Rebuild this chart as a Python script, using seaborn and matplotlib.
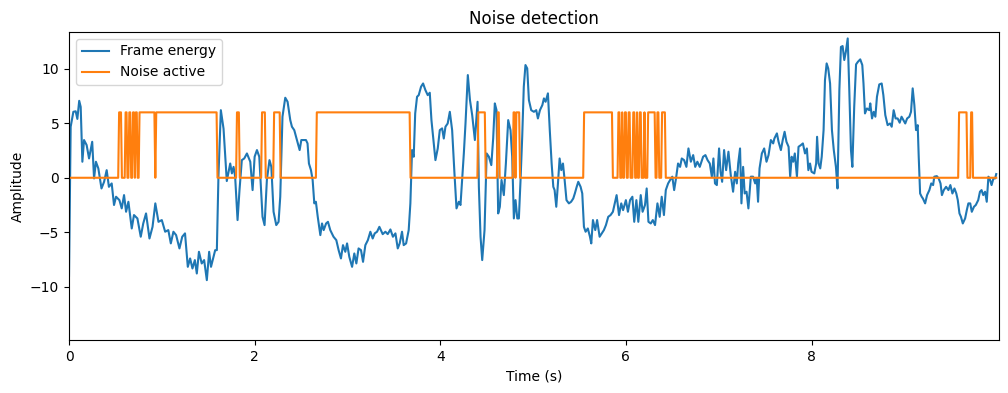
import numpy as np
import pandas as pd
import matplotlib
matplotlib.use("Agg")
import matplotlib.pyplot as plt
import seaborn as sns

# ---- Frame energy (time in s, amplitude) ----
seg_a_time = [0.0, 0.018, 0.047, 0.072, 0.09, 0.11, 0.126, 0.144, 0.162, 0.19, 0.216, 0.25, 0.27, 0.29, 0.316,
              0.35, 0.378, 0.406, 0.43, 0.46, 0.485, 0.507, 0.543, 0.568, 0.593, 0.615, 0.64, 0.676, 0.70, 0.737,
              0.773, 0.80, 0.83, 0.867, 0.90, 0.93, 0.964, 1.0, 1.036, 1.07, 1.097, 1.125, 1.154, 1.19, 1.22,
              1.25, 1.28, 1.305, 1.33, 1.356, 1.377, 1.40, 1.43, 1.456, 1.485, 1.51, 1.53, 1.557, 1.575, 1.593, 1.61]
seg_a_amp = [-9.0, 4.68, 6.05, 6.1, 5.4, 7.06, 6.5, 1.47, 3.46, 3.0, 1.77, 3.3, -0.06, 1.47, 0.86,
             -0.98, -0.37, 0.7, -0.83, -0.52, -2.5, -1.74, -2.05, -2.81, -1.59, -3.12, -2.2, -4.65, -3.42, -3.73,
             -5.41, -4.19, -3.27, -5.57, -4.5, -2.35, -4.04, -3.88, -4.95, -4.8, -6.02, -4.95, -5.26, -6.48, -5.41,
             -5.1, -8.17, -7.4, -8.32, -7.55, -8.78, -6.79, -7.86, -7.55, -9.39, -6.79, -8.17, -7.25, -6.64, -6.64, 0.1]

seg_b_time = [1.636, 1.665, 1.70, 1.737, 1.755, 1.773, 1.79, 1.816, 1.837, 1.862, 1.888, 1.917, 1.953, 1.978, 2.0,
              2.025, 2.05, 2.068, 2.085, 2.107, 2.132, 2.16, 2.18, 2.204, 2.233, 2.258, 2.276, 2.30, 2.33, 2.355,
              2.384, 2.402, 2.427, 2.456, 2.485, 2.503, 2.528, 2.553, 2.57, 2.585, 2.607, 2.625, 2.643, 2.66, 2.68,
              2.708, 2.726, 2.744, 2.77, 2.79, 2.815, 2.85, 2.88, 2.905, 2.93, 2.952, 2.977, 2.996, 3.02, 3.05,
              3.074, 3.096, 3.12, 3.146, 3.168, 3.193, 3.22, 3.247, 3.272, 3.294, 3.319, 3.344]
seg_b_amp = [6.2, 4.5, -0.3, 1.31, 0.4, 1.0, 0.1, -3.88, -1.13, 1.62, 1.77, 2.23, 1.47, -1.13, 1.93,
             2.54, 1.93, -0.83, -3.58, -4.34, -0.2, 1.62, 1.0, -3.12, -4.34, -4.04, -1.74, 5.6, 7.34, 6.97,
             5.29, 4.68, 4.37, 3.46, 2.54, 3.46, 3.46, 3.46, 3.15, 1.31, 0.7, -0.2, -2.35, -2.2, -3.58,
             -5.26, -4.19, -4.8, -4.19, -4.04, -4.8, -5.41, -5.72, -6.64, -7.4, -6.18, -6.79, -6.02, -7.25, -8.17,
             -6.94, -7.86, -6.48, -6.64, -7.71, -6.18, -5.72, -4.95, -5.57, -5.1, -4.95, -4.5]

seg_c_time = [3.38, 3.409, 3.434, 3.463, 3.49, 3.517, 3.542, 3.563, 3.588, 3.606, 3.632, 3.66, 3.678, 3.696, 3.714,
              3.73, 3.75, 3.768, 3.793, 3.815, 3.84, 3.865, 3.887, 3.905, 3.923, 3.948, 3.973, 3.995, 4.02, 4.038,
              4.056, 4.08, 4.103, 4.128, 4.153, 4.175, 4.2, 4.218, 4.236, 4.254, 4.272, 4.297, 4.32, 4.344, 4.373,
              4.402, 4.416, 4.434, 4.452, 4.477, 4.5, 4.524, 4.55, 4.57, 4.588, 4.606, 4.624, 4.642, 4.66, 4.685,
              4.707, 4.732, 4.757, 4.775, 4.793, 4.811, 4.83, 4.847, 4.865, 4.883, 4.9, 4.918, 4.937, 4.955, 4.98,
              5.009, 5.034, 5.052, 5.074, 5.1, 5.117, 5.135]
seg_c_amp = [-5.17, -4.95, -5.17, -4.74, -5.41, -5.1, -6.48, -6.02, -4.95, -6.18, -6.02, -4.8, -2.35, 2.54, 1.93,
             5.9, 7.43, 7.58, 8.35, 8.65, 8.04, 7.58, 7.8, 5.29, 3.76, 1.62, 2.69, 4.37, 4.53, 3.6,
             4.68, 4.98, 6.05, 4.37, 0.4, -2.81, -2.2, -2.5, -0.2, 2.23, 4.98, 9.42, 7.13, 5.75, 3.46,
             6.97, -0.83, -5.41, -7.55, -4.8, 2.23, 1.93, 1.16, 3.6, 6.82, 6.2, -3.27, -2.66, -0.2, -1.59,
             1.31, 5.29, 4.37, 1.93, -3.73, -2.05, -3.73, -3.73, -0.2, 3.76, 8.35, 10.34, 10.03, 7.13, 6.2,
             6.05, 6.2, 5.44, 6.2, 6.67, 7.28, 6.97]

seg_d_time = [5.16, 5.18, 5.2, 5.218, 5.232, 5.25, 5.268, 5.286, 5.304, 5.322, 5.34, 5.36, 5.386, 5.41, 5.433,
              5.45, 5.47, 5.487, 5.512, 5.53, 5.548, 5.566, 5.59, 5.613, 5.627, 5.645, 5.67, 5.69, 5.717, 5.74,
              5.763, 5.785, 5.81, 5.835, 5.86, 5.88, 5.9, 5.926, 5.95, 5.97, 6.0, 6.022, 6.045, 6.07, 6.09,
              6.113, 6.134, 6.16, 6.18, 6.206, 6.224, 6.243, 6.268, 6.29, 6.314, 6.34, 6.364, 6.386, 6.41, 6.43,
              6.455, 6.477, 6.5, 6.52, 6.54, 6.562, 6.584, 6.602, 6.627, 6.652, 6.674, 6.7, 6.725, 6.747, 6.77, 6.796]
seg_d_amp = [7.74, 4.37, 1.31, -0.83, -1.13, -2.66, -0.52, 1.77, 0.7, 1.31, -0.2, -2.05, -2.35, -2.2, -1.9,
             -1.44, -0.83, -0.37, -0.83, -1.44, -4.5, -4.95, -4.65, -5.41, -6.02, -3.88, -4.8, -3.88, -5.41, -5.1,
             -4.8, -4.34, -3.58, -3.42, -3.12, -2.35, -1.59, -3.42, -2.35, -2.97, -2.05, -3.12, -2.05, -1.74, -4.04,
             -2.05, -4.04, -1.59, -3.12, -2.5, -0.98, -4.04, -4.19, -3.88, -4.34, -2.35, -3.58, -1.74, -3.42, -1.13,
             -0.52, -0.2, 0.1, -1.13, -0.06, 1.31, 1.0, 1.77, 1.62, 1.0, 2.69, 1.47, 2.08, 1.0, 1.47, 1.0]

seg_e_time = [6.832, 6.857, 6.88, 6.904, 6.926, 6.943, 6.96, 6.98, 7.004, 7.02, 7.037, 7.058, 7.08, 7.105, 7.13,
              7.155, 7.177, 7.195, 7.21, 7.23, 7.245, 7.263, 7.28, 7.3, 7.32, 7.346, 7.37, 7.393, 7.41, 7.424,
              7.44, 7.465, 7.49, 7.515, 7.537, 7.562, 7.587, 7.6, 7.627, 7.645, 7.67, 7.69, 7.71, 7.73, 7.753,
              7.77, 7.786, 7.803, 7.82, 7.843, 7.86, 7.886, 7.907, 7.93, 7.95, 7.966, 7.984, 8.0, 8.03, 8.05,
              8.06, 8.076, 8.094, 8.11, 8.13, 8.145, 8.163, 8.18, 8.2, 8.22, 8.24, 8.263, 8.28, 8.3, 8.317,
              8.335, 8.353, 8.37, 8.39, 8.407, 8.425, 8.44]
seg_e_amp = [1.93, 2.08, 1.62, 1.31, 0.1, 1.77, -0.52, -0.67, 2.69, 0.55, -0.37, 2.54, 0.7, 2.39, 0.24,
             -1.28, 0.55, -0.52, 1.31, 2.69, -2.35, 1.0, -1.44, -1.28, -2.81, 0.1, 0.1, -0.52, -0.06, -2.2,
             0.86, 2.23, 2.69, 1.47, 2.08, 3.46, 3.15, 3.6, 4.07, 3.3, 2.54, 3.46, 4.22, 3.3, 2.84,
             0.1, 1.93, 1.47, 2.23, 0.1, 2.84, 3.0, 3.15, 2.23, 2.69, 0.7, 1.31, 0.55, 0.4, 1.31,
             3.76, 1.31, 0.86, 1.93, 4.37, 8.96, 10.49, 10.03, 8.65, 4.37, 2.54, 1.0, -0.98, 8.04, 12.0,
             12.08, 10.8, 11.56, 12.78, 8.04, 2.54, 1.0]

seg_f_time = [8.46, 8.48, 8.5, 8.525, 8.547, 8.56, 8.576, 8.597, 8.622, 8.633, 8.652, 8.67, 8.688, 8.705, 8.73,
              8.756, 8.774, 8.795, 8.82, 8.846, 8.864, 8.885, 8.906, 8.928, 8.95, 8.97, 8.99, 9.01, 9.03, 9.054,
              9.072, 9.09, 9.108, 9.126, 9.144, 9.155, 9.17, 9.187, 9.2, 9.224, 9.245, 9.27, 9.29, 9.31, 9.323,
              9.35, 9.37, 9.39, 9.405, 9.425, 9.45, 9.475, 9.496, 9.518, 9.54, 9.56, 9.576, 9.594, 9.61, 9.63,
              9.655, 9.673, 9.69, 9.71, 9.727, 9.75, 9.77, 9.796, 9.815, 9.832, 9.85, 9.87, 9.888, 9.906, 9.924,
              9.94, 9.96, 9.978, 9.99]
seg_f_amp = [6.5, 10.4, 10.64, 10.86, 10.34, 8.65, 5.9, 6.36, 6.2, 6.82, 5.44, 6.05, 5.6, 7.43, 8.56,
             8.65, 7.58, 5.75, 4.83, 4.98, 4.68, 6.2, 5.44, 5.44, 5.05, 5.6, 5.29, 4.98, 5.44, 5.6,
             6.05, 8.2, 6.67, 4.37, 4.83, 1.93, -1.44, -1.74, -1.9, -2.35, -1.59, -1.13, -0.52, -0.67, 0.1,
             0.15, -0.06, -0.52, -1.59, -1.13, -0.83, -1.13, -0.67, -1.44, -0.98, -1.44, -2.05, -3.27, -3.58, -4.19,
             -3.73, -2.97, -2.35, -2.35, -3.12, -2.66, -2.5, -2.05, -1.28, -1.13, -1.59, -1.28, -2.2, 0.1, -0.2,
             -0.67, -0.06, -0.06, 0.34]

# ---- Noise-active intervals (seconds) where the flag is on ----
noise_on_start = [0.54, 0.607, 0.645, 0.682, 0.718, 0.755, 0.94, 1.805, 2.08, 2.205, 2.67, 4.405, 4.615,
                  4.785, 4.815, 5.55, 5.92, 5.955, 5.99, 6.027, 6.077, 6.113, 6.149, 6.192, 6.231, 6.34,
                  6.386, 9.585, 9.72]
noise_on_end = [0.56, 0.628, 0.665, 0.70, 0.735, 0.925, 1.59, 1.835, 2.115, 2.275, 3.67, 4.485, 4.635,
                4.80, 4.855, 5.85, 5.937, 5.969, 6.005, 6.041, 6.091, 6.127, 6.163, 6.206, 6.314, 6.357,
                6.422, 9.67, 9.735]
noise_level = 6.0
frame_hop = 0.01
duration = 10.0

# ---- assemble ----
energy = pd.DataFrame({
    "time": seg_a_time + seg_b_time + seg_c_time + seg_d_time + seg_e_time + seg_f_time,
    "amp": seg_a_amp + seg_b_amp + seg_c_amp + seg_d_amp + seg_e_amp + seg_f_amp,
})

frames = np.round(np.arange(0, duration, frame_hop), 4)
active = np.zeros_like(frames)
for s, e in zip(noise_on_start, noise_on_end):
    active[(frames >= s - 1e-9) & (frames <= e + 1e-9)] = noise_level
noise = pd.DataFrame({"time": frames, "flag": active})

fig, ax = plt.subplots(figsize=(10.08, 3.93), dpi=100)
fig.subplots_adjust(left=69/1008, right=999/1008, bottom=1-340/393, top=1-32/393)

sns.lineplot(data=energy, x="time", y="amp", ax=ax, color="#1f77b4", linewidth=1.5,
             label="Frame energy", estimator=None, sort=False)
sns.lineplot(data=noise, x="time", y="flag", ax=ax, color="#ff7f0e", linewidth=1.5,
             label="Noise active", estimator=None, sort=False)

ax.set_xlim(0, 10.02)
ax.set_ylim(-14.88, 13.37)
ax.set_xticks([0, 2, 4, 6, 8])
ax.set_yticks([-10, -5, 0, 5, 10])
ax.set_title("Noise detection")
ax.set_xlabel("Time (s)")
ax.set_ylabel("Amplitude")
ax.legend(loc="upper left")

fig.savefig("out.png", dpi=100)
